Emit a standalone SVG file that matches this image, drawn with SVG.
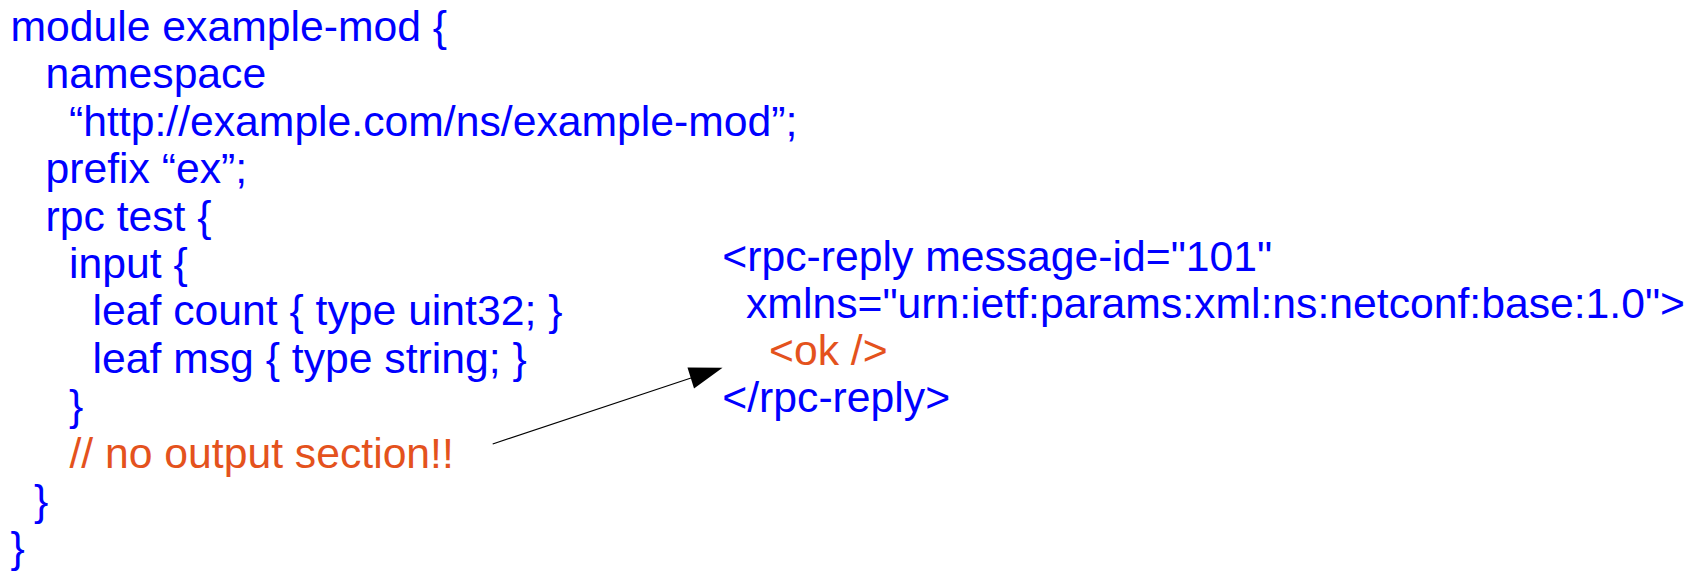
<svg xmlns="http://www.w3.org/2000/svg" width="1695" height="571" viewBox="0 0 1695 571">
<style>
text{font-family:"Liberation Sans",Arial,sans-serif;font-size:42.7px;white-space:pre}
.b{fill:#0000ff}
.o{fill:#e4521d}
.c{stroke:#000;stroke-width:1.2;fill:none}
</style>
<rect width="1695" height="571" fill="#fff"/>
<g id="yang-module">
<text class="b" x="10.5" y="41">module example-mod {</text>
<text class="b" x="45.5" y="88.4">namespace</text>
<text class="b" x="69" y="135.8">“http://example.com/ns/example-mod”;</text>
<text class="b" x="45.5" y="183.2">prefix “ex”;</text>
<text class="b" x="45.5" y="230.6">rpc test {</text>
<text class="b" x="69" y="278">input {</text>
<text class="b" x="92.5" y="325.4">leaf count { type uint32; }</text>
<text class="b" x="92.5" y="372.8">leaf msg { type string; }</text>
<text class="b" x="69" y="420.2">}</text>
<text class="o" x="69.4" y="467.6">// no output section!!</text>
<text class="b" x="34" y="515">}</text>
<text class="b" x="10.5" y="562.4">}</text>
</g>
<g id="rpc-reply">
<text class="b" x="722.3" y="271">&lt;rpc-reply message-id="101"</text>
<text class="b" x="746" y="318">xmlns="urn:ietf:params:xml:ns:netconf:base:1.0"&gt;</text>
<text class="o" x="769" y="365">&lt;ok /&gt;</text>
<text class="b" x="722.3" y="412">&lt;/rpc-reply&gt;</text>
</g>
<g id="connectors">
<line class="c" x1="492.7" y1="444" x2="691" y2="378"/>
<polygon points="722.5,367.7 687.5,367.5 694,388.5" fill="#000"/>
</g>
</svg>
